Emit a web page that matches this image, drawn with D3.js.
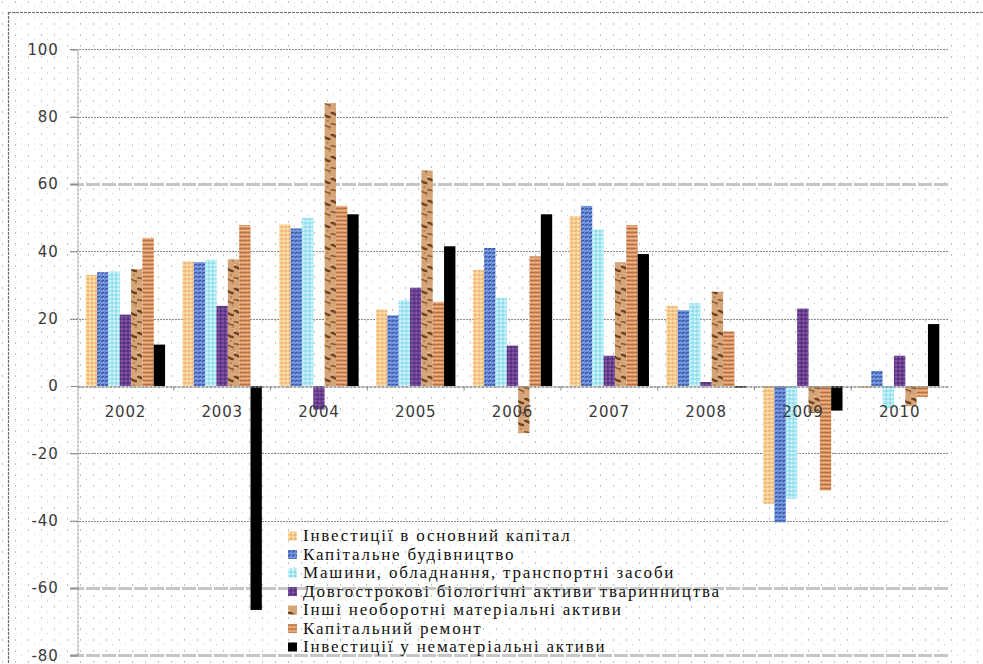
<!DOCTYPE html>
<html>
<head>
<meta charset="utf-8">
<script src="https://cdn.jsdelivr.net/npm/d3@7"></script>
<style>
  body { margin: 0; background: #fff; }
  svg { display: block; }
</style>
</head>
<body>
<svg id="chart" width="983" height="664"></svg>
<script>
// Annual growth rates of capital investment by type, %
const years = ["2002", "2003", "2004", "2005", "2006", "2007", "2008", "2009", "2010"];

const seriesNames = [
  "Інвестиції в основний капітал",
  "Капітальне будівництво",
  "Машини, обладнання, транспортні засоби",
  "Довгострокові біологічні активи тваринництва",
  "Інші необоротні матеріальні активи",
  "Капітальний ремонт",
  "Інвестиції у нематеріальні активи"
];

const fixedCapital   = [33.0, 37.0, 48.0, 22.7, 34.5, 50.5, 23.8, -35.0, -0.5];
const construction   = [33.8, 36.8, 46.8, 21.0, 41.0, 53.5, 22.5, -40.5,  4.5];
const machinery      = [34.0, 37.5, 50.0, 25.5, 26.2, 46.5, 24.6, -33.5, -6.5];
const livestock      = [21.2, 23.8, -7.0, 29.2, 12.0,  9.0,  1.2,  23.0,  9.0];
const otherTangible  = [34.7, 37.6, 84.0, 64.0, -14.0, 36.8, 28.0, -8.0, -6.0];
const majorRepair    = [44.0, 47.8, 53.5, 25.0, 38.5, 47.8, 16.2, -31.0, -3.2];
const intangible     = [12.3, -66.5, 51.0, 41.5, 51.0, 39.2, -0.5, -7.3, 18.4];

const yTicks = [100, 80, 60, 40, 20, 0, -20, -40, -60, -80];

const seriesValues = [fixedCapital, construction, machinery, livestock, otherTangible, majorRepair, intangible];

const svg = d3.select("#chart");
const W = 983, H = 664;
const plot = { left: 77, right: 948, top: 49.3, bottom: 655.4 };

const y = d3.scaleLinear().domain([-80, 100]).range([plot.bottom, plot.top]);
const x = d3.scaleBand().domain(years).range([plot.left, plot.right]).padding(0);
const xs = d3.scaleBand().domain(d3.range(seriesNames.length))
  .range([x.bandwidth() * 0.09, x.bandwidth() * 0.91]).padding(0);

// ---------- fill textures ----------
const defs = svg.append("defs");

// dotted paper background
const bg = defs.append("pattern").attr("id", "dots").attr("patternUnits", "userSpaceOnUse")
  .attr("width", 13).attr("height", 11);
bg.append("rect").attr("width", 13).attr("height", 11).attr("fill", "#fff");
bg.append("rect").attr("x", 2).attr("y", 1).attr("width", 1).attr("height", 2).attr("fill", "#c2c2c2");
bg.append("rect").attr("x", 8).attr("y", 6).attr("width", 1).attr("height", 1).attr("fill", "#cfcfcf");

function cellPattern(id, base, cells, w, h) {
  const p = defs.append("pattern").attr("id", id).attr("patternUnits", "userSpaceOnUse")
    .attr("width", w).attr("height", h);
  p.append("rect").attr("width", w).attr("height", h).attr("fill", base);
  cells.forEach(c => p.append("rect").attr("x", c[0]).attr("y", c[1])
    .attr("width", c[2]).attr("height", c[3]).attr("fill", c[4]));
  return p;
}

cellPattern("tex0", "#f6c98e", [
  [0, 0, 2, 2, "#fce2a6"], [2, 2, 2, 2, "#eeb67e"], [2, 0, 1, 1, "#f9d79a"]
], 4, 4);
cellPattern("tex1", "#6a8cd6", [
  [0, 0, 2, 2, "#4566b8"], [2, 2, 1, 1, "#9ab6ef"], [2, 0, 1, 1, "#2c4a94"], [0, 3, 1, 1, "#83a2e6"]
], 4, 4);
cellPattern("tex2", "#a9ebf5", [
  [0, 0, 2, 2, "#c9f6fc"], [2, 2, 2, 2, "#8cd9e8"], [3, 0, 1, 1, "#d8c8f0"]
], 4, 4);
cellPattern("tex3", "#6b3f90", [
  [0, 0, 2, 2, "#8058aa"], [2, 2, 2, 2, "#563079"]
], 4, 4);
const wood = cellPattern("tex4", "#d6a577", [
  [0, 0, 2, 2, "#efc8a0"], [2, 2, 2, 2, "#c08a5c"], [6, 4, 2, 2, "#f2d0a8"], [8, 10, 2, 2, "#b98050"],
  [4, 14, 2, 2, "#efc8a0"], [10, 18, 2, 2, "#c08a5c"]
], 12, 22);
wood.append("path").attr("d", "M0,3 C3,1 7,8 12,7").attr("fill", "none")
  .attr("stroke", "#6a4222").attr("stroke-width", 2.4);
wood.append("path").attr("d", "M0,14 C4,12 8,18 12,17").attr("fill", "none")
  .attr("stroke", "#80552e").attr("stroke-width", 1.6);
cellPattern("tex5", "#d4915d", [
  [0, 0, 4, 1, "#b8733f"], [0, 2, 4, 1, "#eeb388"], [1, 3, 1, 1, "#e8a0a0"]
], 4, 4);
cellPattern("tex6", "#000", [], 4, 4);

// ---------- background & frame ----------
svg.append("rect").attr("width", W).attr("height", H).attr("fill", "url(#dots)");
svg.append("line").attr("x1", 8).attr("x2", W).attr("y1", 12.5).attr("y2", 12.5)
  .attr("stroke", "#6e6e6e").attr("stroke-width", 1.2).attr("stroke-dasharray", "3,1");
svg.append("line").attr("x1", 8.5).attr("x2", 8.5).attr("y1", 12).attr("y2", H)
  .attr("stroke", "#6e6e6e").attr("stroke-width", 1.2).attr("stroke-dasharray", "3,1");

// ---------- gridlines ----------
const heavy = new Set([60, -60, -80]);
svg.append("g").selectAll("line").data(yTicks.filter(t => t !== 0)).join("line")
  .attr("x1", plot.left - 7).attr("x2", plot.right)
  .attr("y1", d => Math.round(y(d)) + 0.5).attr("y2", d => Math.round(y(d)) + 0.5)
  .attr("stroke", d => heavy.has(d) ? "#c6c6c6" : "#8a8a8a")
  .attr("stroke-width", d => heavy.has(d) ? 3 : 1)
  .attr("stroke-dasharray", d => heavy.has(d) ? "14,2" : "2,1");

// ---------- y axis ----------
const yAxis = svg.append("g").attr("transform", `translate(${plot.left + 0.5},0)`)
  .call(d3.axisLeft(y).tickValues(yTicks).tickSize(7).tickPadding(12).tickFormat(d => String(d)));
yAxis.select(".domain").attr("stroke", "#8a8a8a").attr("stroke-dasharray", "3,1");
yAxis.selectAll(".tick line").attr("stroke", "#8a8a8a");
yAxis.selectAll(".tick text").attr("fill", "#3a3a3a")
  .style("font-family", "'DejaVu Sans', sans-serif").style("font-size", "15px")
  .style("letter-spacing", "0.8px");

// ---------- bars ----------
const groups = svg.append("g").selectAll("g").data(years).join("g")
  .attr("transform", d => `translate(${x(d)},0)`);

groups.selectAll("rect")
  .data((yr, i) => seriesValues.map((vals, s) => ({ s, v: vals[i] })))
  .join("rect")
  .attr("x", d => xs(d.s))
  .attr("width", xs.bandwidth())
  .attr("y", d => y(Math.max(0, d.v)))
  .attr("height", d => Math.abs(y(d.v) - y(0)))
  .attr("fill", d => `url(#tex${d.s})`);

// ---------- x axis (zero line) ----------
const xAxis = svg.append("g").attr("transform", `translate(0,${Math.round(y(0)) + 0.5})`)
  .call(d3.axisBottom(x).tickSize(0).tickPadding(20));
xAxis.select(".domain").attr("stroke", "#8a8a8a").attr("stroke-width", 1.5).attr("stroke-dasharray", "3,1");
xAxis.selectAll(".tick text").attr("fill", "#3a3a3a")
  .style("font-family", "'DejaVu Sans', sans-serif").style("font-size", "15px")
  .style("letter-spacing", "0.8px");
xAxis.append("g").selectAll("line").data(years.slice(1)).join("line")
  .attr("x1", d => x(d)).attr("x2", d => x(d)).attr("y1", 0).attr("y2", 4)
  .attr("stroke", "#8a8a8a");

// ---------- legend ----------
const legend = svg.append("g").attr("transform", "translate(288,0)");
const rowY = d3.scaleLinear().domain([0, seriesNames.length - 1]).range([536, 647]);
const items = legend.selectAll("g").data(seriesNames).join("g")
  .attr("transform", (d, i) => `translate(0,${rowY(i)})`);
items.append("rect").attr("x", 0).attr("y", -4.5).attr("width", 9).attr("height", 9)
  .attr("fill", (d, i) => `url(#tex${i})`);
items.append("text").attr("x", 15).attr("y", 5)
  .attr("fill", "#111")
  .style("font-family", "'Liberation Serif', 'Times New Roman', serif")
  .style("font-size", "17px")
  .style("letter-spacing", "1.8px")
  .text(d => d);
</script>
</body>
</html>
